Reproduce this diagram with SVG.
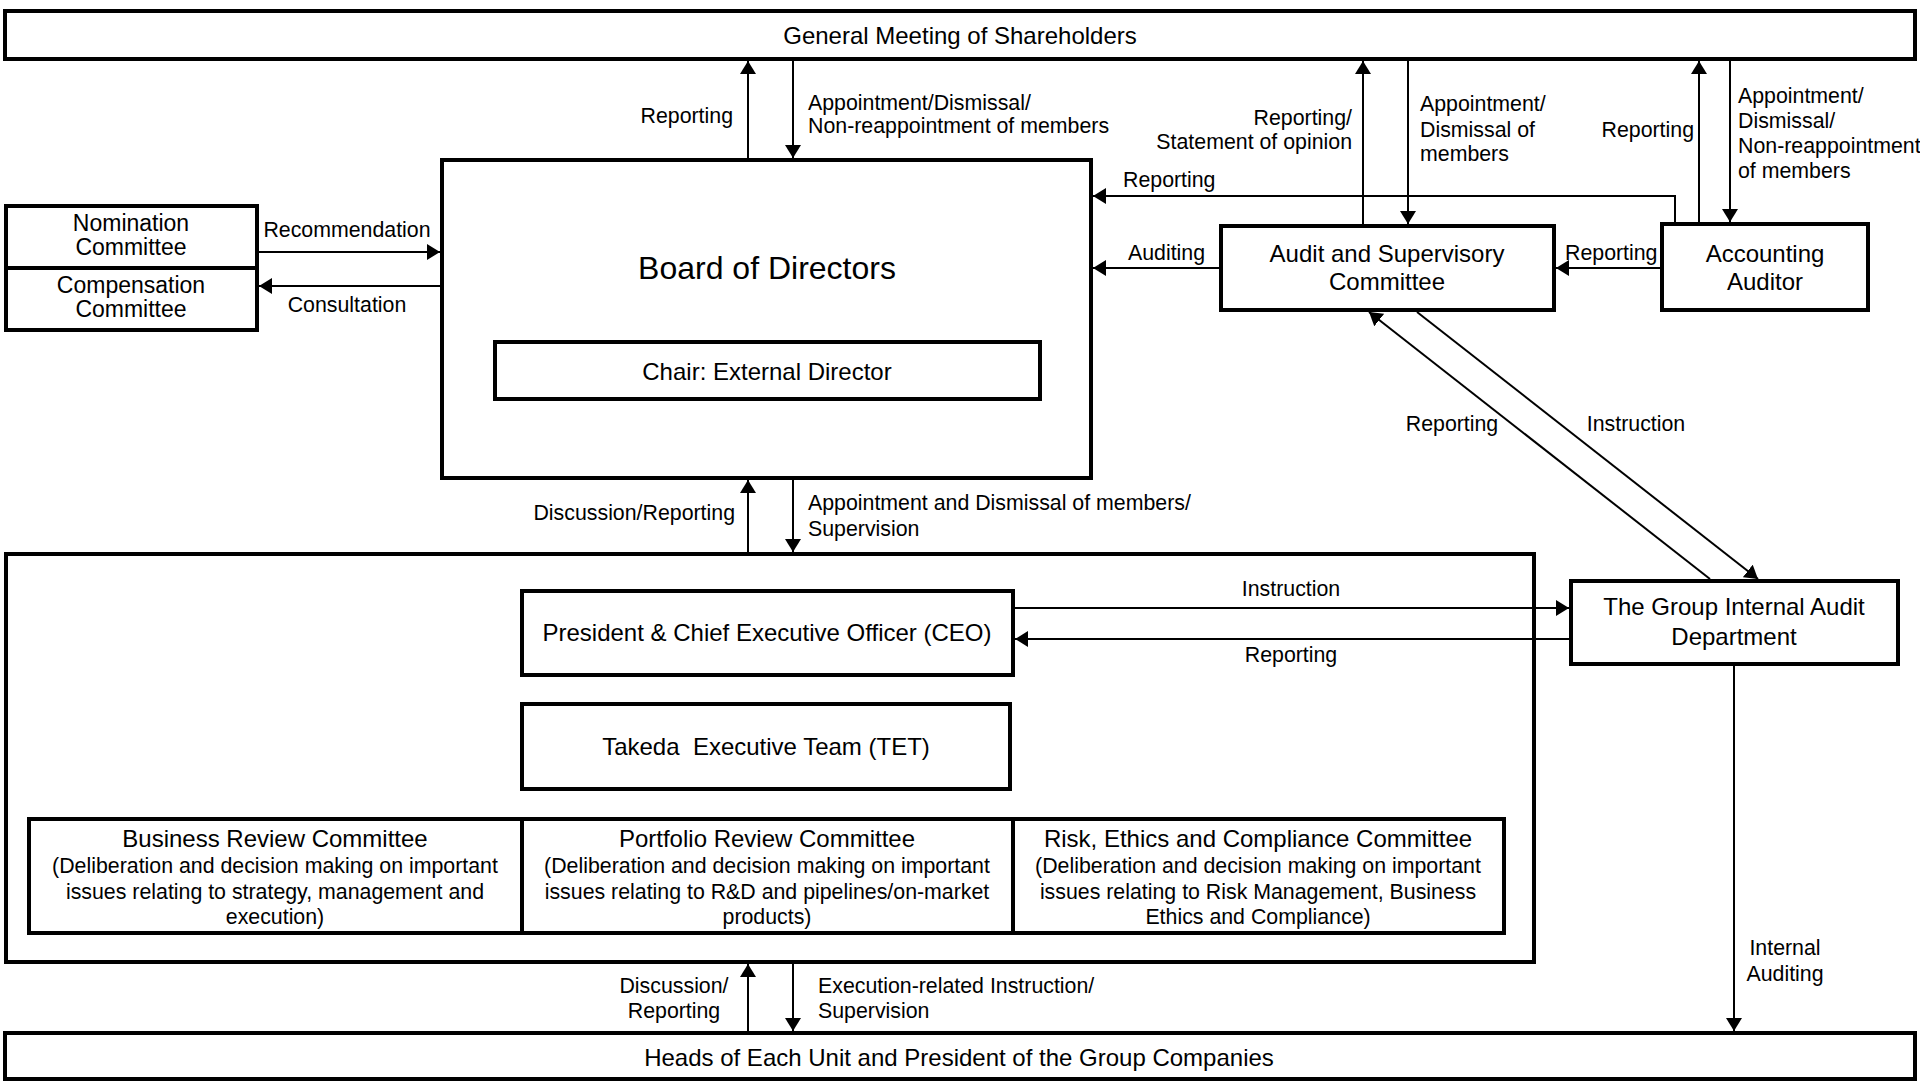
<svg xmlns="http://www.w3.org/2000/svg" width="1920" height="1081" viewBox="0 0 1920 1081">
<style>
.box{fill:#fff;stroke:#000;stroke-width:4}
.t{font-family:"Liberation Sans",Arial,sans-serif;font-size:24px;fill:#000;text-anchor:middle}
.s{font-size:23px}
.big{font-size:32px}
.l{font-family:"Liberation Sans",Arial,sans-serif;font-size:21.33px;fill:#000}
.m{text-anchor:middle}
.e{text-anchor:end}
.c{fill:none;stroke:#000;stroke-width:2;marker-end:url(#ah)}
</style>
<defs>
<marker id="ah" viewBox="0 0 13 16" refX="13" refY="8" markerWidth="13" markerHeight="16" markerUnits="userSpaceOnUse" orient="auto">
<path d="M0,0 L13,8 L0,16 z" fill="#000"/>
</marker>
</defs>
<rect width="1920" height="1081" fill="#fff"/>

<g id="gm"><rect class="box" x="5" y="11" width="1910" height="48"/><text class="t" x="960" y="44">General Meeting of Shareholders</text></g>

<g id="board"><rect class="box" x="442" y="160" width="649" height="318"/><text class="t big" x="767" y="279">Board of Directors</text></g>
<g id="chair"><rect class="box" x="495" y="342" width="545" height="57"/><text class="t" x="767" y="380">Chair: External Director</text></g>

<g id="nomination"><rect class="box" x="6" y="206" width="251" height="62"/><text class="t s" x="131" y="231">Nomination</text><text class="t s" x="131" y="255">Committee</text></g>
<g id="compensation"><rect class="box" x="6" y="268" width="251" height="62"/><text class="t s" x="131" y="293">Compensation</text><text class="t s" x="131" y="317">Committee</text></g>

<g id="asc"><rect class="box" x="1221" y="226" width="333" height="84"/><text class="t" x="1387" y="262">Audit and Supervisory</text><text class="t" x="1387" y="290">Committee</text></g>
<g id="aa"><rect class="box" x="1662" y="224" width="206" height="86"/><text class="t" x="1765" y="262">Accounting</text><text class="t" x="1765" y="290">Auditor</text></g>

<g id="exec"><rect class="box" x="6" y="554" width="1528" height="408"/></g>
<g id="ceo"><rect class="box" x="522" y="591" width="491" height="84"/><text class="t" x="767" y="641">President &amp; Chief Executive Officer (CEO)</text></g>
<g id="tet"><rect class="box" x="522" y="704" width="488" height="85"/><text class="t" x="766" y="755" xml:space="preserve">Takeda  Executive Team (TET)</text></g>

<g id="brc"><rect class="box" x="29" y="819" width="493" height="114"/><text class="t" x="275" y="847">Business Review Committee</text><text class="l m" x="275" y="873">(Deliberation and decision making on important</text><text class="l m" x="275" y="899">issues relating to strategy, management and</text><text class="l m" x="275" y="924">execution)</text></g>
<g id="prc"><rect class="box" x="522" y="819" width="491" height="114"/><text class="t" x="767" y="847">Portfolio Review Committee</text><text class="l m" x="767" y="873">(Deliberation and decision making on important</text><text class="l m" x="767" y="899">issues relating to R&amp;D and pipelines/on-market</text><text class="l m" x="767" y="924">products)</text></g>
<g id="recc"><rect class="box" x="1013" y="819" width="491" height="114"/><text class="t" x="1258" y="847">Risk, Ethics and Compliance Committee</text><text class="l m" x="1258" y="873">(Deliberation and decision making on important</text><text class="l m" x="1258" y="899">issues relating to Risk Management, Business</text><text class="l m" x="1258" y="924">Ethics and Compliance)</text></g>

<g id="giad"><rect class="box" x="1571" y="581" width="327" height="83"/><text class="t" x="1734" y="615">The Group Internal Audit</text><text class="t" x="1734" y="645">Department</text></g>

<g id="heads"><rect class="box" x="5" y="1033" width="1910" height="46"/><text class="t" x="959" y="1066">Heads of Each Unit and President of the Group Companies</text></g>

<g id="connectors">
<line class="c" x1="748" y1="160" x2="748" y2="61"/>
<line class="c" x1="793" y1="61" x2="793" y2="158"/>
<line class="c" x1="259" y1="252" x2="440" y2="252"/>
<line class="c" x1="442" y1="286" x2="259" y2="286"/>
<line class="c" x1="1363" y1="224" x2="1363" y2="61"/>
<line class="c" x1="1408" y1="61" x2="1408" y2="224"/>
<line class="c" x1="1699" y1="222" x2="1699" y2="61"/>
<line class="c" x1="1730" y1="61" x2="1730" y2="222"/>
<polyline class="c" points="1675,222 1675,196 1093,196"/>
<line class="c" x1="1219" y1="268" x2="1093" y2="268"/>
<line class="c" x1="1660" y1="268" x2="1556" y2="268"/>
<line class="c" x1="1710" y1="579" x2="1369" y2="312"/>
<line class="c" x1="1417" y1="312" x2="1758" y2="579"/>
<line class="c" x1="748" y1="552" x2="748" y2="480"/>
<line class="c" x1="793" y1="480" x2="793" y2="552"/>
<line class="c" x1="1015" y1="608" x2="1569" y2="608"/>
<line class="c" x1="1569" y1="639" x2="1015" y2="639"/>
<line class="c" x1="1734" y1="666" x2="1734" y2="1031"/>
<line class="c" x1="748" y1="1031" x2="748" y2="964"/>
<line class="c" x1="793" y1="964" x2="793" y2="1031"/>
</g>

<g id="labels">
<text class="l e" x="733" y="123">Reporting</text>
<text class="l" x="808" y="110">Appointment/Dismissal/</text>
<text class="l" x="808" y="133">Non-reappointment of members</text>
<text class="l m" x="347" y="237">Recommendation</text>
<text class="l m" x="347" y="312">Consultation</text>
<text class="l e" x="1352" y="125">Reporting/</text>
<text class="l e" x="1352" y="149">Statement of opinion</text>
<text class="l" x="1420" y="111">Appointment/</text>
<text class="l" x="1420" y="137">Dismissal of</text>
<text class="l" x="1420" y="161">members</text>
<text class="l e" x="1694" y="137">Reporting</text>
<text class="l" x="1738" y="103">Appointment/</text>
<text class="l" x="1738" y="128">Dismissal/</text>
<text class="l" x="1738" y="153">Non-reappointment</text>
<text class="l" x="1738" y="178">of members</text>
<text class="l" x="1123" y="187">Reporting</text>
<text class="l" x="1128" y="260">Auditing</text>
<text class="l" x="1565" y="260">Reporting</text>
<text class="l m" x="1452" y="431">Reporting</text>
<text class="l m" x="1636" y="431">Instruction</text>
<text class="l e" x="735" y="520">Discussion/Reporting</text>
<text class="l" x="808" y="510">Appointment and Dismissal of members/</text>
<text class="l" x="808" y="536">Supervision</text>
<text class="l m" x="1291" y="596">Instruction</text>
<text class="l m" x="1291" y="662">Reporting</text>
<text class="l m" x="1785" y="955">Internal</text>
<text class="l m" x="1785" y="981">Auditing</text>
<text class="l m" x="674" y="993">Discussion/</text>
<text class="l m" x="674" y="1018">Reporting</text>
<text class="l" x="818" y="993">Execution-related Instruction/</text>
<text class="l" x="818" y="1018">Supervision</text>
</g>
</svg>
